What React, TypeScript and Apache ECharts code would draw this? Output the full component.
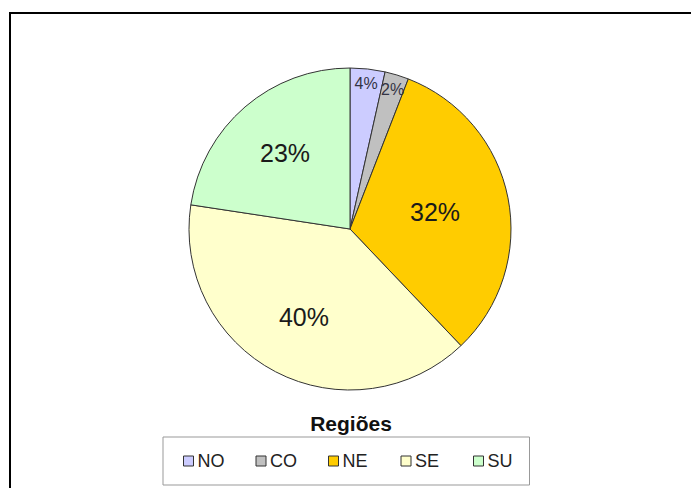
import React, { useEffect, useRef } from "react";
import * as echarts from "echarts";

const regions = ["NO", "CO", "NE", "SE", "SU"];
const shares = [3.5, 2.4, 32, 39.5, 22.6];
const colors = ["#CCCCFF", "#C0C0C0", "#FFCC00", "#FFFFCC", "#CCFFCC"];
const legendTitle = "Regiões";

// label placement groups: [radius fraction of pie, font size, members]
const labelGroups: [number, number, string[]][] = [
  [0.89, 16, ["NO", "CO"]],
  [0.52, 25, ["NE"]],
  [0.6, 25, ["SE", "SU"]],
];

export default function App() {
  const ref = useRef<HTMLDivElement>(null);
  useEffect(() => {
    if (!ref.current) return;
    const chart = echarts.init(ref.current, null, { renderer: "svg" });
    const R = 161;
    const center = [350, 229];
    const font = "Liberation Sans, Arial, sans-serif";
    const fmt = (p: any) => Math.round(p.value) + "%";
    const baseData = regions.map((n, i) => ({
      name: n,
      value: shares[i],
      itemStyle: { color: colors[i] },
    }));
    const labelSeries = labelGroups.map(([frac, size, members]) => {
      const half = Math.min(frac, 1 - frac) * 0.5;
      const inner = frac < 0.7 ? 0 : (frac - 0.09) * R;
      const outer = frac < 0.7 ? 2 * frac * R : (frac + 0.09) * R;
      void half;
      return {
        type: "pie",
        center,
        radius: [inner, outer],
        startAngle: 90,
        clockwise: true,
        silent: true,
        emphasis: { disabled: true },
        itemStyle: { color: "rgba(0,0,0,0)", borderWidth: 0 },
        label: {
          position: "inside",
          formatter: fmt,
          fontFamily: font,
          fontSize: size,
          color: size < 20 ? "#333344" : "#1a1a1a",
        },
        labelLine: { show: false },
        data: regions.map((n, i) => ({
          name: n,
          value: shares[i],
          label: { show: members.includes(n) },
        })),
      };
    });
    chart.setOption({
      animation: false,
      graphic: [
        {
          type: "rect",
          shape: { x: 10, y: 13, width: 760, height: 560 },
          style: { fill: "none", stroke: "#000", lineWidth: 2 },
          silent: true,
        },
        {
          type: "text",
          x: 351,
          y: 423,
          style: {
            text: legendTitle,
            fontFamily: font,
            fontSize: 21,
            fontWeight: "bold",
            fill: "#111",
            textAlign: "center",
            textVerticalAlign: "middle",
          },
        },
      ],
      legend: {
        data: regions,
        left: 163,
        top: 437,
        orient: "horizontal",
        icon: "rect",
        itemWidth: 10,
        itemHeight: 10,
        itemGap: 16,
        padding: [15, 0, 15, 20],
        borderColor: "#999",
        borderWidth: 1,
        borderRadius: 0,
        backgroundColor: "#fff",
        selectedMode: false,
        itemStyle: { borderColor: "#333", borderWidth: 1 },
        textStyle: {
          fontFamily: font,
          fontSize: 18,
          color: "#222",
          width: 42,
          lineHeight: 18,
          padding: [0, 0, 0, -1],
        },
      },
      series: [
        {
          type: "pie",
          center,
          radius: [0, R],
          startAngle: 90,
          clockwise: true,
          silent: true,
          emphasis: { disabled: true },
          itemStyle: { borderColor: "#333", borderWidth: 1 },
          label: { show: false },
          labelLine: { show: false },
          data: baseData,
        },
        ...labelSeries,
      ],
    });
    return () => chart.dispose();
  }, []);
  return (
    <div
      ref={ref}
      style={{ position: "absolute", left: 0, top: 0, width: 691, height: 488, background: "#fff" }}
    />
  );
}
